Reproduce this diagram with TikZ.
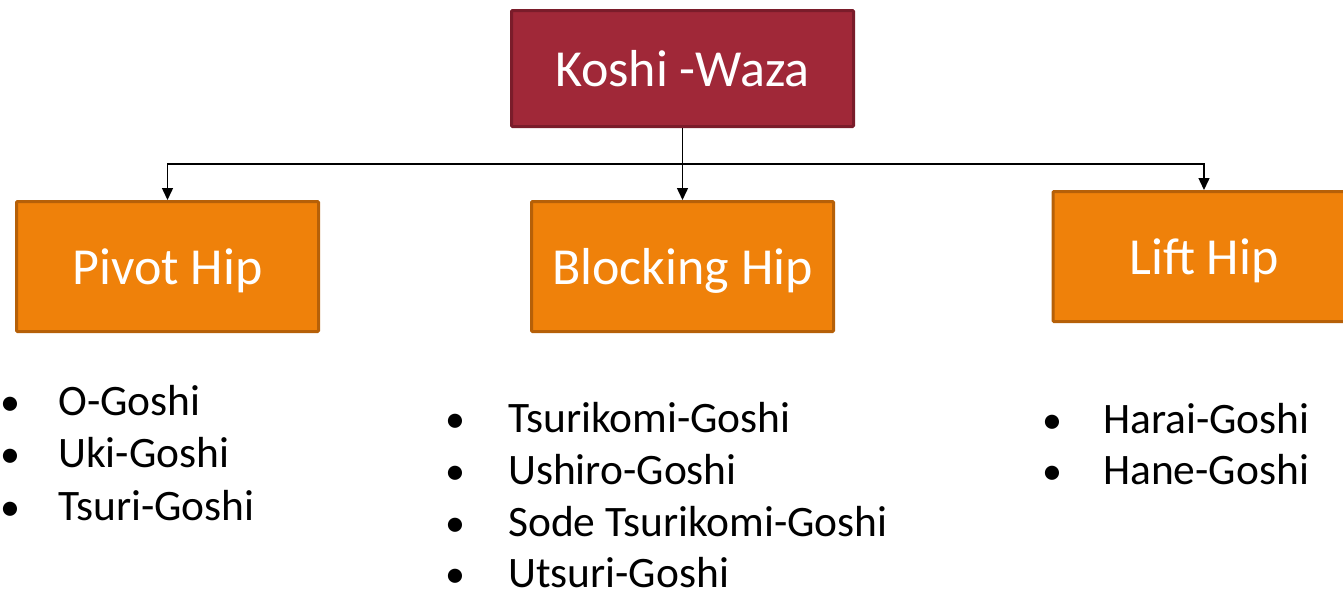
\documentclass[tikz,border=0pt]{standalone}
\usepackage{fontspec}
\setmainfont{Carlito}
\usetikzlibrary{arrows.meta,calc}
\definecolor{kred}{RGB}{160,40,56}
\definecolor{kredline}{RGB}{122,28,42}
\definecolor{korange}{RGB}{239,129,10}
\definecolor{korangeline}{RGB}{182,96,8}
\tikzset{
  topbox/.style={draw=kredline, fill=kred, line width=2.25pt, rounded corners=0.8pt,
    minimum width=256.5pt, minimum height=87pt, inner sep=0pt,
    text=white, font=\fontsize{39}{44}\selectfont, text height=27pt, text depth=0pt},
  catbox/.style={draw=korangeline, fill=korange, line width=2.25pt, rounded corners=0.8pt,
    minimum width=226.5pt, minimum height=97.5pt, inner sep=0pt,
    text=white, font=\fontsize{39}{44}\selectfont, text height=26.25pt, text depth=0pt},
  conn/.style={draw=black, line width=1.1pt, -{Triangle[length=9pt,width=8.25pt]}},
  item/.style={anchor=base west, inner sep=0pt, font=\fontsize{32.6}{38}\selectfont, text depth=0pt},
  bul/.style={anchor=base, inner sep=0pt, font=\fontsize{30}{36}\selectfont, text depth=0pt},
}
\begin{document}
\begin{tikzpicture}[x=0.75pt,y=-0.75pt]
\useasboundingbox (0,0) rectangle (1343,597);
\node[topbox] (koshi) at (682.5,68.5) {Koshi -Waza};
\node[catbox] (pivot) at (167.5,266.5) {Pivot Hip};
\node[catbox] (block) at (682.5,266.5) {Blocking Hip};
\node[catbox] (lift) at (1204,256.5) {Lift Hip};
\coordinate (mid) at ($(koshi.south)!0.5!(block.north)$);
\draw[conn] (koshi.south) -- (block.north);
\draw[conn] (mid) -| (pivot.north);
\draw[conn] (mid) -| (lift.north);
% Pivot list
\node[bul] (pb1) at (10.5,415) {•};
\node[item] (p1) at (58,415) {O-Goshi};
\node[bul] (pb2) at (10.5,467) {•};
\node[item] (p2) at (58,467) {Uki-Goshi};
\node[bul] (pb3) at (10.5,520) {•};
\node[item] (p3) at (58,520) {Tsuri-Goshi};
% Blocking list
\node[bul] (bb1) at (455,432) {•};
\node[item] (b1) at (508,432) {Tsurikomi-Goshi};
\node[bul] (bb2) at (455,484) {•};
\node[item] (b2) at (508,484) {Ushiro-Goshi};
\node[bul] (bb3) at (455,536) {•};
\node[item] (b3) at (508,536) {Sode Tsurikomi-Goshi};
\node[bul] (bb4) at (455,587) {•};
\node[item] (b4) at (508,587) {Utsuri-Goshi};
% Lift list
\node[bul] (lb1) at (1052,433) {•};
\node[item] (l1) at (1103,433) {Harai-Goshi};
\node[bul] (lb2) at (1052,484) {•};
\node[item] (l2) at (1103,484) {Hane-Goshi};
\end{tikzpicture}
\end{document}
